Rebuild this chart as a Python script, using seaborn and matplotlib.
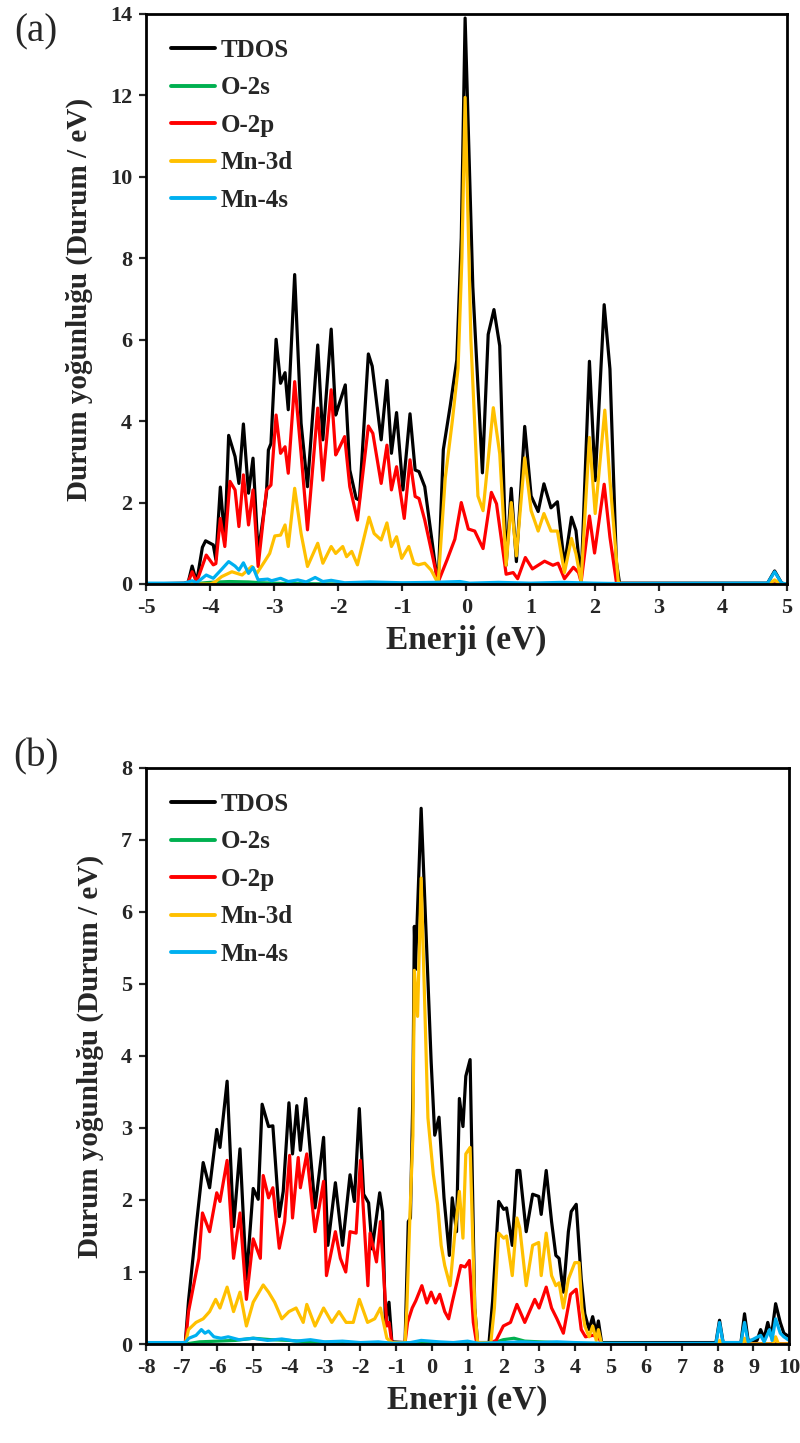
import numpy as np
import pandas as pd
import matplotlib
matplotlib.use("Agg")
import matplotlib.pyplot as plt
import seaborn as sns

# ---------------- panel (a) : energy range -5 .. 5 eV ----------------
e_tdos_a = [-5.0, -4.40, -4.34, -4.28, -4.21, -4.12, -4.07, -3.95, -3.91, -3.84, -3.77, -3.71, -3.61,
            -3.55, -3.48, -3.40, -3.33, -3.25, -3.12, -3.09, -3.05, -2.97, -2.90, -2.83, -2.78, -2.68,
            -2.58, -2.48, -2.32, -2.24, -2.11, -2.04, -2.00, -1.89, -1.82, -1.72, -1.67, -1.53, -1.47,
            -1.33, -1.24, -1.17, -1.09, -0.99, -0.88, -0.80, -0.74, -0.65, -0.47, -0.44, -0.36, -0.25,
            -0.15, -0.08, -0.02, 0.10, 0.25, 0.34, 0.43, 0.52, 0.62, 0.70, 0.78, 0.91, 1.01, 1.12, 1.21,
            1.32, 1.42, 1.53, 1.64, 1.71, 1.79, 1.92, 2.01, 2.15, 2.24, 2.34, 2.39, 4.70, 4.81, 4.92, 5.0]
tdos_a = [0.0, 0.02, 0.05, 0.44, 0.05, 0.90, 1.06, 0.96, 0.60, 2.38, 1.07, 3.65, 3.13,
          2.47, 3.93, 2.23, 3.09, 0.75, 2.23, 3.29, 3.45, 6.01, 4.93, 5.19, 4.28, 7.60,
          3.95, 2.39, 5.87, 3.54, 6.26, 4.15, 4.35, 4.89, 2.80, 2.10, 2.06, 5.65, 5.35,
          3.54, 5.00, 3.21, 4.21, 2.31, 4.18, 2.80, 2.76, 2.39, 0.27, 0.05, 3.30, 4.40,
          5.50, 8.50, 13.90, 7.30, 2.73, 6.13, 6.74, 5.85, 0.46, 2.35, 0.55, 3.87, 2.16, 1.78, 2.46,
          1.87, 2.02, 0.46, 1.64, 1.31, 0.08, 5.47, 2.54, 6.86, 5.28, 0.55, 0.02, 0.02, 0.32, 0.02, 0.0]

e_o2s_a = [-5.0, -4.30, -4.00, -3.70, -3.40, -3.20, -2.80, -2.00, 5.0]
o2s_a = [0.0, 0.0, 0.04, 0.06, 0.05, 0.03, 0.01, 0.0, 0.0]

e_o2p_a = [-5.0, -4.40, -4.34, -4.28, -4.21, -4.06, -3.95, -3.91, -3.84, -3.77, -3.69, -3.61, -3.55,
           -3.48, -3.40, -3.33, -3.25, -3.12, -3.05, -2.97, -2.90, -2.83, -2.78, -2.68, -2.58, -2.48,
           -2.32, -2.24, -2.11, -2.04, -2.00, -1.90, -1.82, -1.70, -1.53, -1.46, -1.33, -1.24, -1.17,
           -1.09, -0.97, -0.88, -0.80, -0.74, -0.65, -0.47, -0.44, -0.30, -0.18, -0.08, 0.03, 0.13,
           0.26, 0.39, 0.47, 0.62, 0.73, 0.80, 0.92, 1.03, 1.22, 1.35, 1.43, 1.53, 1.67, 1.75, 1.79,
           1.92, 2.00, 2.15, 2.24, 2.34, 2.40, 5.0]
o2p_a = [0.0, 0.0, 0.05, 0.30, 0.05, 0.71, 0.47, 0.50, 1.61, 0.92, 2.52, 2.31, 1.41,
         2.68, 1.45, 2.31, 0.43, 2.31, 2.43, 4.15, 3.21, 3.37, 2.72, 4.97, 3.21, 1.33,
         4.32, 2.55, 4.77, 3.17, 3.29, 3.62, 2.39, 1.57, 3.88, 3.70, 2.47, 3.41, 2.31,
         2.88, 1.61, 3.05, 2.15, 2.10, 1.57, 0.26, 0.05, 0.60, 1.10, 2.00, 1.35, 1.30,
         0.87, 2.25, 1.97, 0.24, 0.28, 0.13, 0.65, 0.37, 0.56, 0.46, 0.51, 0.13, 0.41, 0.28, 0.05,
         1.67, 0.76, 2.45, 1.15, 0.05, 0.0, 0.0]

e_mn3d_a = [-5.0, -4.00, -3.92, -3.82, -3.66, -3.50, -3.35, -3.27, -3.15, -3.07, -2.99, -2.90, -2.83,
            -2.78, -2.68, -2.58, -2.48, -2.32, -2.24, -2.11, -2.04, -1.93, -1.87, -1.79, -1.70, -1.52,
            -1.44, -1.33, -1.24, -1.17, -1.09, -1.01, -0.90, -0.82, -0.75, -0.65, -0.55, -0.47, -0.44,
            -0.33, -0.22, -0.13, -0.07, -0.02, 0.07, 0.18, 0.26, 0.42, 0.52, 0.62, 0.70, 0.78, 0.91,
            1.01, 1.12, 1.21, 1.32, 1.42, 1.53, 1.64, 1.71, 1.79, 1.92, 2.01, 2.16, 2.24, 2.37, 2.42,
            4.72, 4.81, 4.90, 5.0]
mn3d_a = [0.0, 0.0, 0.05, 0.18, 0.30, 0.22, 0.43, 0.26, 0.55, 0.75, 1.18, 1.20, 1.45,
          0.92, 2.35, 1.24, 0.43, 1.00, 0.51, 0.92, 0.75, 0.92, 0.67, 0.80, 0.47, 1.64,
          1.24, 1.08, 1.50, 0.92, 1.16, 0.63, 0.92, 0.51, 0.47, 0.51, 0.34, 0.10, 0.05,
          2.60, 4.00, 5.30, 8.00, 11.95, 6.00, 2.16, 1.80, 4.33, 3.20, 0.46, 2.00, 0.69, 3.10,
          1.80, 1.30, 1.73, 1.30, 1.30, 0.28, 1.12, 0.74, 0.06, 3.60, 1.73, 4.27, 2.54, 0.05, 0.0,
          0.0, 0.10, 0.0, 0.0]

e_mn4s_a = [-5.0, -4.40, -4.28, -4.21, -4.06, -3.95, -3.82, -3.71, -3.61, -3.55, -3.48, -3.40, -3.33,
            -3.25, -3.10, -3.04, -2.90, -2.78, -2.63, -2.50, -2.36, -2.24, -2.11, -1.90, -1.50, -1.00,
            -0.50, -0.10, 0.05, 0.50, 1.00, 1.50, 2.00, 2.40, 4.70, 4.81, 4.92, 5.0]
mn4s_a = [0.02, 0.02, 0.08, 0.03, 0.22, 0.14, 0.36, 0.55, 0.44, 0.34, 0.52, 0.26, 0.41,
          0.10, 0.12, 0.08, 0.14, 0.06, 0.10, 0.05, 0.16, 0.06, 0.09, 0.03, 0.05, 0.03,
          0.04, 0.06, 0.02, 0.04, 0.02, 0.04, 0.02, 0.01, 0.02, 0.30, 0.02, 0.0]

# ---------------- panel (b) : energy range -8 .. 10 eV ----------------
e_tdos_b = [-8.0, -6.90, -6.81, -6.58, -6.40, -6.22, -6.02, -5.93, -5.73, -5.55, -5.37, -5.19, -5.00,
            -4.86, -4.75, -4.57, -4.45, -4.27, -4.16, -4.00, -3.90, -3.78, -3.68, -3.53, -3.27, -3.03,
            -2.91, -2.70, -2.50, -2.29, -2.17, -2.03, -1.91, -1.77, -1.67, -1.46, -1.38, -1.30, -1.20,
            -1.12, -0.75, -0.66, -0.60, -0.53, -0.49, -0.46, -0.30, -0.02, 0.08, 0.20, 0.34, 0.49,
            0.57, 0.69, 0.77, 0.87, 0.95, 1.07, 1.20, 1.28, 1.60, 1.70, 1.87, 2.01, 2.09, 2.25, 2.38,
            2.46, 2.64, 2.82, 2.99, 3.06, 3.20, 3.35, 3.47, 3.56, 3.68, 3.82, 3.90, 4.04, 4.18, 4.28,
            4.40, 4.50, 4.60, 4.66, 4.75, 7.95, 8.05, 8.15, 8.65, 8.75, 8.85, 9.10, 9.20, 9.30, 9.40,
            9.50, 9.62, 9.75, 9.85, 10.0]
tdos_b = [0.0, 0.02, 0.60, 1.70, 2.52, 2.17, 2.98, 2.73, 3.65, 1.63, 2.71, 0.90, 2.16,
          2.01, 3.33, 3.02, 3.03, 1.77, 2.12, 3.35, 2.64, 3.31, 2.69, 3.41, 1.89, 2.87,
          1.37, 2.24, 1.37, 2.35, 1.98, 3.27, 2.08, 1.96, 1.32, 2.10, 1.84, 0.30, 0.58,
          0.03, 0.02, 1.70, 1.75, 3.50, 5.80, 5.20, 7.44, 3.92, 2.90, 3.15, 2.03, 1.23,
          2.03, 1.56, 3.41, 3.02, 3.72, 3.95, 0.50, 0.02, 0.02, 0.60, 1.98, 1.87, 1.89, 1.37, 2.41,
          2.41, 1.56, 2.08, 2.05, 1.80, 2.41, 1.70, 1.23, 1.19, 0.72, 1.56, 1.84, 1.94, 0.90, 0.42,
          0.20, 0.38, 0.15, 0.32, 0.02, 0.02, 0.33, 0.02, 0.02, 0.42, 0.05, 0.05, 0.20, 0.08, 0.30,
          0.10, 0.56, 0.30, 0.15, 0.10]

e_o2s_b = [-8.0, -6.90, -6.50, -5.50, -5.00, -4.50, -4.00, -3.50, -2.50, -1.50, 1.70, 2.00, 2.30,
           2.60, 3.00, 4.00, 10.0]
o2s_b = [0.0, 0.0, 0.03, 0.05, 0.08, 0.06, 0.05, 0.03, 0.02, 0.01, 0.01, 0.06, 0.08,
         0.04, 0.03, 0.01, 0.0]

e_o2p_b = [-8.0, -6.90, -6.81, -6.52, -6.42, -6.22, -6.02, -5.93, -5.73, -5.55, -5.37, -5.19, -5.00,
           -4.80, -4.72, -4.57, -4.45, -4.27, -4.12, -3.98, -3.90, -3.74, -3.68, -3.50, -3.27, -3.03,
           -2.95, -2.70, -2.56, -2.41, -2.29, -2.12, -2.00, -1.88, -1.79, -1.73, -1.55, -1.44, -1.26,
           -1.20, -1.12, -0.75, -0.68, -0.55, -0.45, -0.28, -0.14, -0.02, 0.10, 0.22, 0.36, 0.47,
           0.57, 0.81, 0.93, 1.05, 1.16, 1.25, 1.65, 1.80, 2.00, 2.20, 2.38, 2.60, 2.88, 3.00, 3.20,
           3.35, 3.50, 3.68, 3.88, 4.04, 4.18, 4.30, 4.50, 4.66, 4.75, 10.0]
o2p_b = [0.0, 0.0, 0.45, 1.19, 1.82, 1.56, 2.10, 1.98, 2.55, 1.19, 1.82, 0.62, 1.46,
         1.19, 2.34, 2.03, 2.17, 1.33, 1.70, 2.62, 1.75, 2.59, 2.17, 2.64, 1.56, 2.26,
         0.95, 1.56, 1.19, 1.00, 1.56, 1.54, 2.55, 1.56, 0.81, 1.54, 1.14, 1.70, 0.25,
         0.30, 0.02, 0.02, 0.30, 0.50, 0.60, 0.81, 0.57, 0.72, 0.57, 0.69, 0.45, 0.35,
         0.58, 1.09, 1.07, 1.16, 0.30, 0.02, 0.02, 0.05, 0.25, 0.30, 0.55, 0.30, 0.62, 0.50, 0.79,
         0.50, 0.35, 0.15, 0.69, 0.76, 0.20, 0.10, 0.12, 0.10, 0.0, 0.0]

e_mn3d_b = [-8.0, -6.90, -6.81, -6.60, -6.40, -6.22, -6.05, -5.93, -5.73, -5.55, -5.37, -5.19, -5.00,
            -4.72, -4.57, -4.40, -4.20, -4.00, -3.80, -3.60, -3.50, -3.27, -3.03, -2.80, -2.60, -2.40,
            -2.20, -2.03, -1.80, -1.60, -1.44, -1.26, -1.12, -0.75, -0.70, -0.61, -0.53, -0.49, -0.40,
            -0.30, -0.11, 0.04, 0.16, 0.26, 0.36, 0.51, 0.63, 0.77, 0.87, 0.95, 1.07, 1.20, 1.28,
            1.65, 1.75, 1.87, 2.01, 2.09, 2.25, 2.38, 2.46, 2.64, 2.82, 2.99, 3.06, 3.20, 3.35, 3.47,
            3.56, 3.68, 3.82, 4.00, 4.12, 4.20, 4.28, 4.40, 4.50, 4.60, 4.66, 4.75, 8.00, 8.05, 8.15,
            8.70, 8.75, 8.85, 9.55, 9.62, 9.70, 10.0]
mn3d_b = [0.0, 0.0, 0.20, 0.30, 0.35, 0.45, 0.62, 0.50, 0.79, 0.45, 0.72, 0.25, 0.58,
          0.82, 0.72, 0.58, 0.35, 0.45, 0.50, 0.30, 0.55, 0.25, 0.50, 0.30, 0.45, 0.30,
          0.30, 0.62, 0.30, 0.35, 0.50, 0.08, 0.02, 0.02, 0.50, 1.84, 2.90, 5.19, 4.55,
          6.47, 3.14, 2.36, 1.94, 1.37, 1.09, 0.81, 1.47, 2.12, 1.47, 2.64, 2.73, 0.50, 0.02,
          0.02, 0.50, 1.54, 1.47, 1.50, 0.95, 1.75, 1.61, 0.81, 1.37, 1.41, 0.95, 1.54, 0.95, 0.81,
          0.85, 0.50, 0.90, 1.13, 1.13, 0.50, 0.25, 0.10, 0.25, 0.05, 0.20, 0.0, 0.0, 0.05, 0.0,
          0.0, 0.08, 0.0, 0.0, 0.10, 0.0, 0.0]

e_mn4s_b = [-8.0, -6.90, -6.80, -6.60, -6.45, -6.35, -6.25, -6.10, -5.90, -5.70, -5.40, -5.00, -4.60,
            -4.20, -3.80, -3.40, -3.00, -2.50, -2.00, -1.50, -1.10, -0.60, -0.30, 0.20, 0.60, 1.00,
            1.30, 2.00, 2.50, 3.00, 3.50, 4.00, 4.70, 7.95, 8.05, 8.15, 8.65, 8.75, 8.85, 9.20, 9.30,
            9.45, 9.52, 9.62, 9.75, 9.85, 10.0]
mn4s_b = [0.02, 0.02, 0.08, 0.12, 0.20, 0.15, 0.18, 0.10, 0.08, 0.10, 0.06, 0.08, 0.05,
          0.07, 0.04, 0.06, 0.03, 0.04, 0.02, 0.03, 0.01, 0.02, 0.05, 0.03, 0.02, 0.04,
          0.01, 0.02, 0.03, 0.02, 0.03, 0.02, 0.01, 0.01, 0.30, 0.02, 0.02, 0.30, 0.03, 0.12, 0.03,
          0.20, 0.05, 0.35, 0.15, 0.10, 0.05]

labels = ["TDOS", "O-2s", "O-2p", "Mn-3d", "Mn-4s"]
colors = ["#000000", "#00b050", "#ff0000", "#ffc000", "#00b0f0"]

panels = [
    dict(tag="(a)", xlim=(-5, 5), xticks=np.arange(-5, 6, 1), ylim=(0, 14), yticks=np.arange(0, 15, 2),
         series=[(e_tdos_a, tdos_a), (e_o2s_a, o2s_a), (e_o2p_a, o2p_a), (e_mn3d_a, mn3d_a), (e_mn4s_a, mn4s_a)]),
    dict(tag="(b)", xlim=(-8, 10), xticks=np.arange(-8, 11, 1), ylim=(0, 8), yticks=np.arange(0, 9, 1),
         series=[(e_tdos_b, tdos_b), (e_o2s_b, o2s_b), (e_o2p_b, o2p_b), (e_mn3d_b, mn3d_b), (e_mn4s_b, mn4s_b)]),
]

sns.set_theme(style="ticks")
plt.rcParams["font.family"] = ["Liberation Serif", "DejaVu Serif"]
plt.rcParams["font.weight"] = "bold"
plt.rcParams["axes.unicode_minus"] = False

fig = plt.figure(figsize=(8, 14.43), dpi=100)
ax_boxes = [[0.1825, 0.5953, 0.801, 0.3950], [0.1825, 0.0686, 0.804, 0.3992]]
tag_y = [0.978, 0.4755]

for p, box, ty in zip(panels, ax_boxes, tag_y):
    ax = fig.add_axes(box)
    for (ex, vals), lab, col in zip(p["series"], labels, colors):
        df = pd.DataFrame({"Energy": ex, "DOS": vals})
        sns.lineplot(data=df, x="Energy", y="DOS", ax=ax, color=col, lw=2.3,
                     label=lab, estimator=None, errorbar=None)
    ax.set_xlim(*p["xlim"])
    ax.set_ylim(*p["ylim"])
    ax.set_xticks(p["xticks"])
    ax.set_yticks(p["yticks"])
    ax.tick_params(direction="out", length=5, width=1.6, labelsize=16, pad=5)
    for t in ax.get_xticklabels() + ax.get_yticklabels():
        t.set_fontweight("bold")
    for s in ax.spines.values():
        s.set_linewidth(2)
        s.set_color("black")
    ax.set_xlabel("Enerji (eV)", fontsize=24, fontweight="bold", labelpad=5)
    ax.set_ylabel("Durum yoğunluğu (Durum / eV)", fontsize=21, fontweight="bold", labelpad=12)
    leg = ax.legend(loc="upper left", frameon=False, fontsize=18, handlelength=1.75,
                    handletextpad=0.25, labelspacing=0.58, borderaxespad=0.3, borderpad=0.7)
    for line in leg.get_lines():
        line.set_linewidth(2.8)
    for t in leg.get_texts():
        t.set_fontweight("bold")
    fig.text(0.045, ty, p["tag"], fontsize=28, fontweight="normal", ha="center", va="center")

fig.savefig("out.png", dpi=100)
